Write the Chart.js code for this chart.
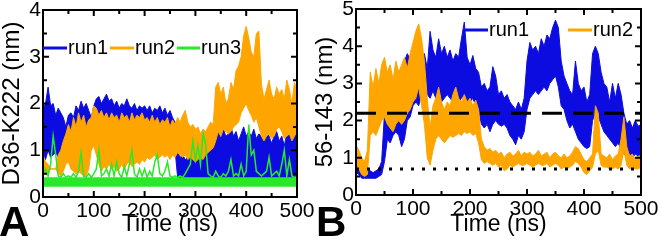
<!DOCTYPE html>
<html>
<head>
<meta charset="utf-8">
<script src="https://cdn.jsdelivr.net/npm/chart.js@4.4.1/dist/chart.umd.min.js"></script>
<style>
    html, body { margin: 0; padding: 0; background: #fff; }
    body { width: 661px; height: 244px; position: relative; overflow: hidden; }
    canvas { position: absolute; top: 0; }
    #chartA { left: 0; }
    #chartB { left: 300px; }
    .panel-tag {
        position: absolute;
        font: bold 42px "Liberation Sans", Arial, sans-serif;
        line-height: 42px;
        color: #000;
    }
</style>
</head>
<body>
<canvas id="chartA" width="320" height="244"></canvas>
<canvas id="chartB" width="361" height="244"></canvas>
<div class="panel-tag" style="left:-1px; top:201px">A</div>
<div class="panel-tag" style="left:316px; top:201px">B</div>
<script>
// time axis (ns), one sample every 5 ns
const timeNs = [
    0, 5, 10, 15, 20, 25, 30, 35, 40, 45,
    50, 55, 60, 65, 70, 75, 80, 85, 90, 95,
    100, 105, 110, 115, 120, 125, 130, 135, 140, 145,
    150, 155, 160, 165, 170, 175, 180, 185, 190, 195,
    200, 205, 210, 215, 220, 225, 230, 235, 240, 245,
    250, 255, 260, 265, 270, 275, 280, 285, 290, 295,
    300, 305, 310, 315, 320, 325, 330, 335, 340, 345,
    350, 355, 360, 365, 370, 375, 380, 385, 390, 395,
    400, 405, 410, 415, 420, 425, 430, 435, 440, 445,
    450, 455, 460, 465, 470, 475, 480, 485, 490, 495,
    500
];

// panel A: D36-K222 distance (nm), upper / lower edge of the scatter band
const runA1Hi = [
    1.9, 2.0, 2.35, 1.95, 2.0, 1.75, 1.9, 1.8, 1.7, 1.5,
    1.75, 1.8, 1.7, 1.95, 1.85, 2.05, 1.9, 2.0, 1.85, 1.7,
    1.95, 2.1, 2.15, 2.0, 2.1, 2.2, 2.05, 2.1, 1.95, 2.05,
    1.9, 2.0, 1.95, 2.1, 1.95, 1.9, 2.0, 1.85, 1.95, 1.9,
    1.95, 1.85, 1.95, 1.8, 1.9, 1.85, 1.95, 1.8, 1.9, 1.75,
    1.85, 1.7, 1.6, 0.95, 0.85, 0.9, 0.8, 0.85, 0.9, 1.0,
    0.95, 1.0, 1.1, 1.2, 1.0, 1.1, 1.3, 1.45, 1.3, 1.4,
    1.25, 1.45, 1.3, 1.35, 1.5, 1.3, 1.4, 1.2, 1.35, 1.5,
    1.3, 1.4, 1.3, 1.45, 1.25, 1.35, 1.3, 1.2, 1.4, 1.3,
    1.15, 1.3, 1.4, 1.2, 1.3, 1.1, 1.35, 1.4, 1.25, 1.45,
    1.3
];
const runA1Lo = [
    0.95, 0.8, 1.0, 0.85, 0.9, 0.95, 0.85, 0.9, 1.0, 1.05,
    1.0, 1.1, 1.05, 1.1, 1.0, 1.05, 1.1, 1.0, 1.05, 1.1,
    1.15, 1.2, 1.1, 1.2, 1.15, 1.2, 1.1, 1.2, 1.15, 1.2,
    1.15, 1.2, 1.1, 1.2, 1.15, 1.2, 1.1, 1.2, 1.15, 1.2,
    1.15, 1.2, 1.1, 1.2, 1.15, 1.2, 1.1, 1.15, 1.2, 1.1,
    1.15, 1.1, 1.0, 0.42, 0.4, 0.42, 0.4, 0.42, 0.4, 0.42,
    0.4, 0.42, 0.4, 0.42, 0.4, 0.42, 0.4, 0.42, 0.4, 0.42,
    0.4, 0.42, 0.4, 0.42, 0.4, 0.42, 0.4, 0.42, 0.4, 0.42,
    0.4, 0.42, 0.4, 0.42, 0.4, 0.42, 0.4, 0.42, 0.4, 0.42,
    0.4, 0.42, 0.4, 0.42, 0.4, 0.42, 0.4, 0.42, 0.4, 0.42,
    0.4
];
const runA2Hi = [
    0.9, 0.75, 0.7, 0.6, 0.6, 0.6, 0.9, 1.0, 1.2, 1.35,
    1.55, 1.4, 1.7, 1.5, 1.8, 1.6, 1.75, 1.5, 1.65, 1.7,
    1.95, 1.9, 1.75, 1.85, 1.7, 1.8, 1.65, 1.8, 1.7, 1.75,
    1.6, 1.8, 1.7, 1.75, 1.6, 1.8, 1.65, 1.75, 1.7, 1.8,
    1.65, 1.7, 1.6, 1.75, 1.6, 1.7, 1.55, 1.65, 1.6, 1.7,
    1.5, 1.65, 1.55, 1.7, 1.6, 1.75, 1.85, 1.6, 1.5, 1.55,
    1.45, 1.5, 1.35, 1.45, 1.4, 1.5, 1.6, 1.55, 2.35, 2.45,
    2.2, 2.35, 2.0, 2.1, 2.45, 2.3, 2.7, 2.8, 3.0, 3.45,
    3.65, 3.4, 3.1, 3.0, 3.5, 3.55, 2.4, 2.1, 2.3, 2.5,
    2.2, 2.1, 2.35, 2.2, 2.3, 2.1, 2.5, 2.3, 2.0, 2.45,
    2.3
];
const runA2Lo = [
    0.5, 0.5, 0.5, 0.6, 0.6, 0.6, 0.5, 0.45, 0.55, 0.7,
    0.75, 0.6, 0.55, 0.5, 0.55, 0.5, 0.45, 0.45, 0.6, 1.0,
    1.1, 0.9, 0.7, 0.55, 0.65, 0.6, 0.7, 0.6, 0.65, 0.55,
    0.6, 0.7, 0.6, 0.7, 0.75, 0.65, 0.7, 0.75, 0.7, 0.8,
    0.75, 0.85, 0.8, 0.85, 0.9, 0.8, 0.85, 0.9, 0.85, 0.9,
    0.8, 0.9, 0.85, 0.95, 0.9, 0.85, 0.9, 0.8, 0.85, 0.8,
    0.75, 0.8, 0.85, 0.8, 0.9, 0.95, 1.0, 1.05, 1.2, 1.4,
    1.3, 1.45, 1.4, 1.35, 1.4, 1.5, 1.55, 1.6, 1.8, 1.9,
    2.0, 1.85, 1.75, 1.6, 1.7, 1.5, 1.3, 1.2, 1.3, 1.35,
    1.25, 1.3, 1.45, 1.5, 1.4, 1.25, 1.3, 1.35, 1.2, 1.3,
    1.4
];
// run3: dense core band plus thin excursions above it
const runA3CoreT = [0, 500];
const runA3CoreTop = [0.42, 0.42];
const runA3Floor = 0.22;
const runA3Hi = [
    0.45, 0.6, 0.45, 0.7, 1.3, 0.9, 0.45, 0.42, 0.5, 0.42,
    0.45, 0.42, 0.5, 0.42, 0.55, 0.95, 0.45, 0.42, 0.5, 0.42,
    0.5, 0.6, 1.0, 0.45, 0.5, 0.6, 0.45, 0.7, 0.45, 0.75,
    0.5, 0.42, 0.65, 0.45, 0.7, 1.0, 0.5, 0.42, 0.6, 0.45,
    0.6, 0.42, 0.55, 0.45, 0.75, 0.9, 0.5, 0.45, 0.55, 0.75,
    0.45, 0.42, 0.45, 0.42, 0.45, 0.42, 0.5, 0.6, 0.7, 1.2,
    0.8, 1.1, 0.7, 1.35, 1.15, 0.5, 0.45, 0.42, 0.55, 0.45,
    0.42, 0.5, 0.45, 0.55, 0.8, 0.45, 0.5, 0.45, 0.7, 0.45,
    0.55, 1.55, 0.9, 1.0, 0.55, 0.5, 0.45, 0.5, 0.55, 0.85,
    0.45, 0.5, 0.55, 0.45, 0.7, 1.0, 0.45, 0.8, 0.45, 0.42,
    0.42
];

// panel B: 56-143 distance (nm)
const runB1Hi = [
    0.95, 0.85, 0.7, 0.65, 0.7, 0.65, 0.6, 0.65, 0.7, 0.9,
    2.2, 2.6, 3.3, 2.5, 2.7, 3.0, 2.9, 3.6, 3.8, 3.65,
    3.9, 3.5, 3.3, 3.7, 3.8, 3.4, 4.4, 3.9, 3.7, 4.2,
    3.8, 4.0, 3.7, 3.9, 3.6, 3.8, 3.7, 4.2, 4.65, 3.7,
    3.5, 3.75, 3.4, 3.3, 2.9, 3.0, 2.8, 2.9, 3.45, 3.2,
    2.7, 2.8, 2.6, 2.7, 2.5, 2.4, 2.3, 2.5, 2.3, 2.6,
    3.6, 4.1, 3.9, 4.0, 3.8, 4.2, 4.0, 4.3, 4.2, 4.5,
    4.7, 4.5, 3.6, 3.2, 3.0, 2.8, 2.7, 3.6, 3.0, 2.8,
    2.9, 2.5, 2.7, 3.8, 4.0, 3.8, 3.3, 3.0, 2.9, 2.5,
    3.0, 2.6, 3.0, 2.7, 2.2, 1.9, 2.0, 1.8, 2.0, 1.85,
    1.9
];
const runB1Lo = [
    0.6, 0.55, 0.45, 0.45, 0.45, 0.45, 0.45, 0.45, 0.5, 0.55,
    0.9, 1.5, 1.4, 1.6, 1.7, 1.6, 1.3, 1.5, 2.0, 2.1,
    2.4, 2.5, 2.4, 2.7, 2.8, 2.7, 2.6, 2.8, 2.6, 2.7,
    2.5, 2.6, 2.7, 2.6, 2.5, 2.7, 2.5, 2.6, 2.7, 2.4,
    2.5, 2.6, 2.4, 2.3, 1.9, 1.8, 1.9, 1.7, 1.9, 2.0,
    1.9, 1.85, 1.9, 1.8, 1.6, 1.5, 1.35, 1.6, 1.5, 1.7,
    2.3, 2.6, 2.7, 2.8, 2.7, 2.8, 2.9, 2.8, 3.0, 3.1,
    3.2, 2.9, 2.4, 2.3, 2.0, 1.8, 1.9, 1.7, 1.5, 1.4,
    1.3, 1.25, 1.3, 2.0, 2.2, 2.1, 1.9, 1.7, 1.6, 1.5,
    1.4, 1.3, 1.4, 1.2, 1.1, 1.05, 1.1, 1.0, 1.1, 1.05,
    1.1
];
const runB2Hi = [
    1.35, 1.2, 1.0, 0.9, 1.2, 3.3, 2.9, 3.4, 3.0, 3.5,
    3.7, 3.3, 3.5, 3.1, 3.6, 3.3, 3.5, 3.7, 3.4, 3.8,
    4.1, 4.4, 4.6, 4.2, 3.6, 2.6, 1.8, 2.4, 2.6, 2.9,
    2.5, 2.3, 2.5, 2.4, 2.7, 2.9, 2.6, 2.5, 2.7, 2.5,
    2.6, 2.4, 2.55, 2.3, 1.5, 1.3, 1.2, 1.25, 1.15, 1.2,
    1.1, 1.15, 1.0, 1.1, 1.15, 1.05, 1.1, 1.2, 1.05, 1.15,
    1.1, 1.15, 1.05, 1.1, 1.2, 1.05, 1.1, 1.15, 1.0, 1.1,
    1.15, 1.05, 1.0, 1.1, 1.0, 1.05, 1.15, 1.3, 1.25, 1.1,
    0.95, 0.9, 1.0, 1.1, 2.4, 2.2, 1.1, 1.05, 1.0, 1.1,
    0.95, 1.05, 1.1, 1.5, 2.1, 1.3, 1.05, 1.1, 0.95, 1.05,
    1.0
];
const runB2Lo = [
    0.8, 0.7, 0.55, 0.5, 0.55, 1.6, 1.7, 1.6, 1.8, 2.0,
    2.1, 1.9, 1.8, 1.7, 1.9, 2.0, 1.9, 2.0, 2.2, 2.3,
    2.5, 2.6, 2.9, 2.4, 1.9, 1.0, 0.8, 1.2, 1.5, 1.6,
    1.5, 1.4, 1.5, 1.6, 1.55, 1.6, 1.65, 1.6, 1.7, 1.65,
    1.7, 1.6, 1.65, 1.4, 0.95, 0.85, 0.9, 0.85, 0.8, 0.85,
    0.75, 0.8, 0.65, 0.7, 0.8, 0.75, 0.8, 0.85, 0.8, 0.8,
    0.85, 0.8, 0.75, 0.8, 0.85, 0.8, 0.8, 0.85, 0.75, 0.8,
    0.85, 0.8, 0.7, 0.75, 0.7, 0.75, 0.8, 0.9, 0.85, 0.75,
    0.6, 0.55, 0.65, 0.75, 1.1, 1.2, 0.8, 0.75, 0.75, 0.7,
    0.7, 0.75, 0.7, 0.8, 1.2, 0.8, 0.7, 0.75, 0.7, 0.7,
    0.75
];

// horizontal reference levels in panel B
const refTimeB = [0, 500];
const refDashB = [2.2, 2.2];
const refDotB = [0.7, 0.7];

// tick positions
const majorTicksX = [0, 100, 200, 300, 400, 500];
const minorTicksX = [50, 150, 250, 350, 450];
const majorTicksYA = [0, 1, 2, 3, 4];
const minorTicksYA = [0.5, 1.5, 2.5, 3.5];
const majorTicksYB = [0, 1, 2, 3, 4, 5];
const minorTicksYB = [0.5, 1.5, 2.5, 3.5, 4.5];

const BLUE = 'rgb(12,12,225)',
    ORANGE = 'rgb(255,165,0)',
    GREEN = 'rgb(40,232,40)',
    FONT = '"Liberation Sans", Arial, sans-serif';

function points(times, values) {
    return times.map((t, i) => ({x: t, y: values[i]}));
}

function band(lo, hi, color, order) {
    return [
        {data: points(timeNs, lo), borderColor: color, backgroundColor: color,
            borderWidth: 1, fill: false, order},
        {data: points(timeNs, hi), borderColor: color, backgroundColor: color,
            borderWidth: 1, fill: '-1', order}
    ];
}

// frame, inward ticks on all four sides, and the in-plot legend
const framePlugin = {
    id: 'frame',
    afterDatasetsDraw(chart, _args, opts) {
        const {ctx, chartArea: a, scales: {x, y}} = chart;

        ctx.save();
        ctx.strokeStyle = '#000';
        ctx.lineWidth = 2;
        ctx.beginPath();
        const tick = (vals, len, horizontal) => {
            for (const v of vals) {
                if (horizontal) {
                    const px = x.getPixelForValue(v);
                    ctx.moveTo(px, a.bottom); ctx.lineTo(px, a.bottom - len);
                    ctx.moveTo(px, a.top); ctx.lineTo(px, a.top + len);
                }
                else {
                    const py = y.getPixelForValue(v);
                    ctx.moveTo(a.left, py); ctx.lineTo(a.left + len, py);
                    ctx.moveTo(a.right, py); ctx.lineTo(a.right - len, py);
                }
            }
        };
        tick(opts.majorX, 6, true);
        tick(opts.minorX, 4, true);
        tick(opts.majorY, 6, false);
        tick(opts.minorY, 4, false);
        ctx.stroke();
        ctx.strokeRect(a.left, a.top, a.right - a.left, a.bottom - a.top);

        ctx.font = '20px ' + FONT;
        ctx.textBaseline = 'middle';
        ctx.textAlign = 'left';
        for (const item of opts.legend) {
            ctx.strokeStyle = item.color;
            ctx.lineWidth = 3;
            ctx.beginPath();
            ctx.moveTo(item.x0, item.y);
            ctx.lineTo(item.x1, item.y);
            ctx.stroke();
            ctx.fillStyle = '#000';
            ctx.fillText(item.text, item.x1 + 1, item.y);
        }
        ctx.restore();
    }
};

function makePanel(canvasId, cfg) {
    const tickFont = {family: FONT, size: 21, lineHeight: 1};
    const titleFont = {family: FONT, size: 24, lineHeight: 1};

    return new Chart(document.getElementById(canvasId), {
        type: 'line',
        data: {datasets: cfg.datasets},
        options: {
            responsive: false,
            animation: false,
            events: [],
            layout: {padding: {top: cfg.top, right: cfg.right, left: 0, bottom: 0}},
            elements: {point: {radius: 0}, line: {tension: 0}},
            plugins: {
                legend: {display: false},
                tooltip: {enabled: false},
                filler: {propagate: false},
                frame: cfg.frame
            },
            scales: {
                x: {
                    type: 'linear',
                    min: 0,
                    max: 500,
                    ticks: {stepSize: 100, font: tickFont, color: '#000', padding: 4,
                        maxRotation: 0, autoSkip: false},
                    grid: {display: false, drawTicks: false},
                    border: {display: false},
                    title: {display: true, text: 'Time (ns)', color: '#000',
                        font: {family: FONT, size: 23, lineHeight: 1},
                        padding: {top: 0, bottom: 8}},
                    afterFit: s => {
                        s.height = cfg.xHeight;
                        s.paddingLeft = s.paddingRight = s.paddingTop = s.paddingBottom = 0;
                    }
                },
                y: {
                    type: 'linear',
                    min: 0,
                    max: cfg.yMax,
                    ticks: {stepSize: 1, font: tickFont, color: '#000', padding: 2},
                    grid: {display: false, drawTicks: false},
                    border: {display: false},
                    title: {display: true, text: cfg.yTitle, color: '#000', font: titleFont,
                        padding: {top: cfg.yTitlePad, bottom: 0}},
                    afterFit: s => {
                        s.width = cfg.yWidth;
                        s.paddingLeft = s.paddingRight = s.paddingTop = s.paddingBottom = 0;
                    }
                }
            }
        },
        plugins: [framePlugin]
    });
}

makePanel('chartA', {
    datasets: [
        ...band(runA1Lo, runA1Hi, BLUE, 3),
        ...band(runA2Lo, runA2Hi, ORANGE, 2),
        {data: points(runA3CoreT, runA3CoreTop), borderColor: GREEN, backgroundColor: GREEN,
            borderWidth: 0, fill: {value: runA3Floor}, order: 1},
        {data: points(timeNs, runA3Hi), borderColor: GREEN, borderWidth: 1.5,
            fill: false, order: 1}
    ],
    top: 10,
    right: 23,
    xHeight: 47,
    yWidth: 43,
    yMax: 4,
    yTitle: 'D36-K222 (nm)',
    yTitlePad: 0,
    frame: {
        majorX: majorTicksX, minorX: minorTicksX,
        majorY: majorTicksYA, minorY: minorTicksYA,
        legend: [
            {text: 'run1', color: BLUE, x0: 43, x1: 67, y: 48},
            {text: 'run2', color: ORANGE, x0: 110, x1: 134, y: 48},
            {text: 'run3', color: GREEN, x0: 177, x1: 200, y: 48}
        ]
    }
});

makePanel('chartB', {
    datasets: [
        ...band(runB1Lo, runB1Hi, BLUE, 3),
        ...band(runB2Lo, runB2Hi, ORANGE, 2),
        {data: points(refTimeB, refDashB), borderColor: '#000', borderWidth: 3,
            borderDash: [20, 11], fill: false, order: 0},
        {data: points(refTimeB, refDotB), borderColor: '#000', borderWidth: 3,
            borderDash: [3, 8], fill: false, order: 0}
    ],
    top: 9,
    right: 20,
    xHeight: 49,
    yWidth: 56,
    yMax: 5,
    yTitle: '56-143 (nm)',
    yTitlePad: 13,
    frame: {
        majorX: majorTicksX, minorX: minorTicksX,
        majorY: majorTicksYB, minorY: minorTicksYB,
        legend: [
            {text: 'run1', color: BLUE, x0: 165, x1: 188, y: 30},
            {text: 'run2', color: ORANGE, x0: 268, x1: 292, y: 30}
        ]
    }
});
</script>
</body>
</html>
